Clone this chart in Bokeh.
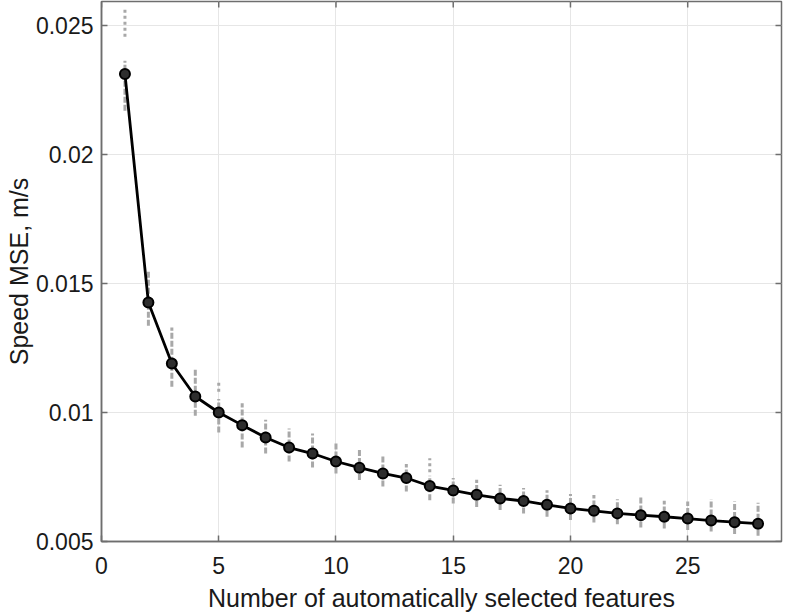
import math
from bokeh.plotting import figure
from bokeh.models import ColumnDataSource, FixedTicker, Range1d
from bokeh.embed import file_html
from bokeh.resources import INLINE

# ---- data ----
n_features = list(range(1, 29))
mean_mse = [0.02312, 0.01426, 0.01190, 0.01062, 0.01000, 0.00951, 0.00903, 0.00864,
            0.00841, 0.00810, 0.00786, 0.00764, 0.00746, 0.00715, 0.00698, 0.00681,
            0.00667, 0.00657, 0.00642, 0.00628, 0.00619, 0.00609, 0.00602, 0.00596,
            0.00589, 0.00581, 0.00575, 0.00569]
spread_low = [0.02170, 0.01336, 0.01100, 0.00987, 0.00922, 0.00864, 0.00841, 0.00810,
              0.00787, 0.00764, 0.00738, 0.00713, 0.00694, 0.00660, 0.00647, 0.00634,
              0.00622, 0.00609, 0.00596, 0.00583, 0.00574, 0.00567, 0.00554, 0.00550,
              0.00545, 0.00539, 0.00529, 0.00522]
spread_high = [0.02363, 0.01553, 0.01329, 0.01172, 0.01052, 0.01036, 0.00972, 0.00938,
               0.00919, 0.00888, 0.00862, 0.00829, 0.00800, 0.00755, 0.00746, 0.00739,
               0.00720, 0.00707, 0.00699, 0.00684, 0.00680, 0.00664, 0.00671, 0.00658,
               0.00655, 0.00664, 0.00655, 0.00650]
outlier_x = [1, 5, 14]
outlier_low = [0.02456, 0.01080, 0.00768]
outlier_high = [0.02564, 0.01120, 0.00823]

x_ticks = [0, 5, 10, 15, 20, 25]
y_ticks = [0.005, 0.01, 0.015, 0.02, 0.025]
y_tick_labels = ["0.005", "0.01", "0.015", "0.02", "0.025"]

X_MIN, X_MAX = 0, 29
Y_MIN, Y_MAX = 0.005, 0.02593

FONT = "Liberation Sans"
AXIS_COLOR = "#6e6e6e"
TEXT_COLOR = "#1a1a1a"

p = figure(frame_width=680, frame_height=540,
           x_range=Range1d(X_MIN, X_MAX), y_range=Range1d(Y_MIN, Y_MAX),
           output_backend="svg", toolbar_location=None,
           min_border_left=101, min_border_top=1, min_border_right=2, min_border_bottom=2)

p.background_fill_color = "white"
p.border_fill_color = "white"
p.outline_line_color = AXIS_COLOR
p.outline_line_width = 1.5

for ax in (p.xaxis[0], p.yaxis[0]):
    ax.axis_line_color = AXIS_COLOR
    ax.axis_line_width = 1.5
    ax.major_tick_line_color = AXIS_COLOR
    ax.major_tick_line_width = 1.5
    ax.major_tick_in = 6
    ax.major_tick_out = 0
    ax.minor_tick_line_color = None
    ax.major_label_text_font = FONT
    ax.major_label_text_font_size = "23px"
    ax.major_label_text_color = TEXT_COLOR
    ax.axis_label_text_font = FONT
    ax.axis_label_text_font_size = "25px"
    ax.axis_label_text_font_style = "normal"
    ax.axis_label_text_color = TEXT_COLOR

p.xaxis.ticker = FixedTicker(ticks=x_ticks)
p.yaxis.ticker = FixedTicker(ticks=y_ticks)
p.yaxis.major_label_overrides = {t: l for t, l in zip(y_ticks, y_tick_labels)}
p.xaxis.axis_label = "Number of automatically selected features"
p.yaxis.axis_label = "Speed MSE, m/s"
p.xaxis.major_label_standoff = 15
p.yaxis.major_label_standoff = 8
p.xaxis.axis_label_standoff = 7
p.yaxis.axis_label_standoff = 0

p.xgrid.ticker = FixedTicker(ticks=x_ticks)
p.ygrid.ticker = FixedTicker(ticks=y_ticks)
p.xgrid.grid_line_color = "#e6e6e6"
p.ygrid.grid_line_color = "#e6e6e6"
p.xgrid.grid_line_width = 1
p.ygrid.grid_line_width = 1

# inward tick marks on the top and right edges of the box
p.ray(x=x_ticks, y=[Y_MAX] * len(x_ticks), length=6, length_units="screen",
      angle=-math.pi / 2, line_color=AXIS_COLOR, line_width=1.5)
p.ray(x=[X_MAX] * len(y_ticks), y=y_ticks, length=6, length_units="screen",
      angle=math.pi, line_color=AXIS_COLOR, line_width=1.5)

spread_src = ColumnDataSource(dict(x=n_features, lo=spread_low, hi=spread_high))
out_src = ColumnDataSource(dict(x=outlier_x, lo=outlier_low, hi=outlier_high))
mean_src = ColumnDataSource(dict(x=n_features, y=mean_mse))

p.segment(x0="x", y0="lo", x1="x", y1="hi", source=spread_src,
          line_color="#a8a8a8", line_width=3, line_dash="6 2")
p.segment(x0="x", y0="lo", x1="x", y1="hi", source=out_src,
          line_color="#a8a8a8", line_width=3, line_dash="3 3")

p.line("x", "y", source=mean_src, line_color="black", line_width=2.8)
p.scatter("x", "y", source=mean_src, size=10, marker="circle",
          fill_color="#2e2e2e", line_color="black", line_width=2)

open("out.html", "w").write(file_html(p, INLINE))
